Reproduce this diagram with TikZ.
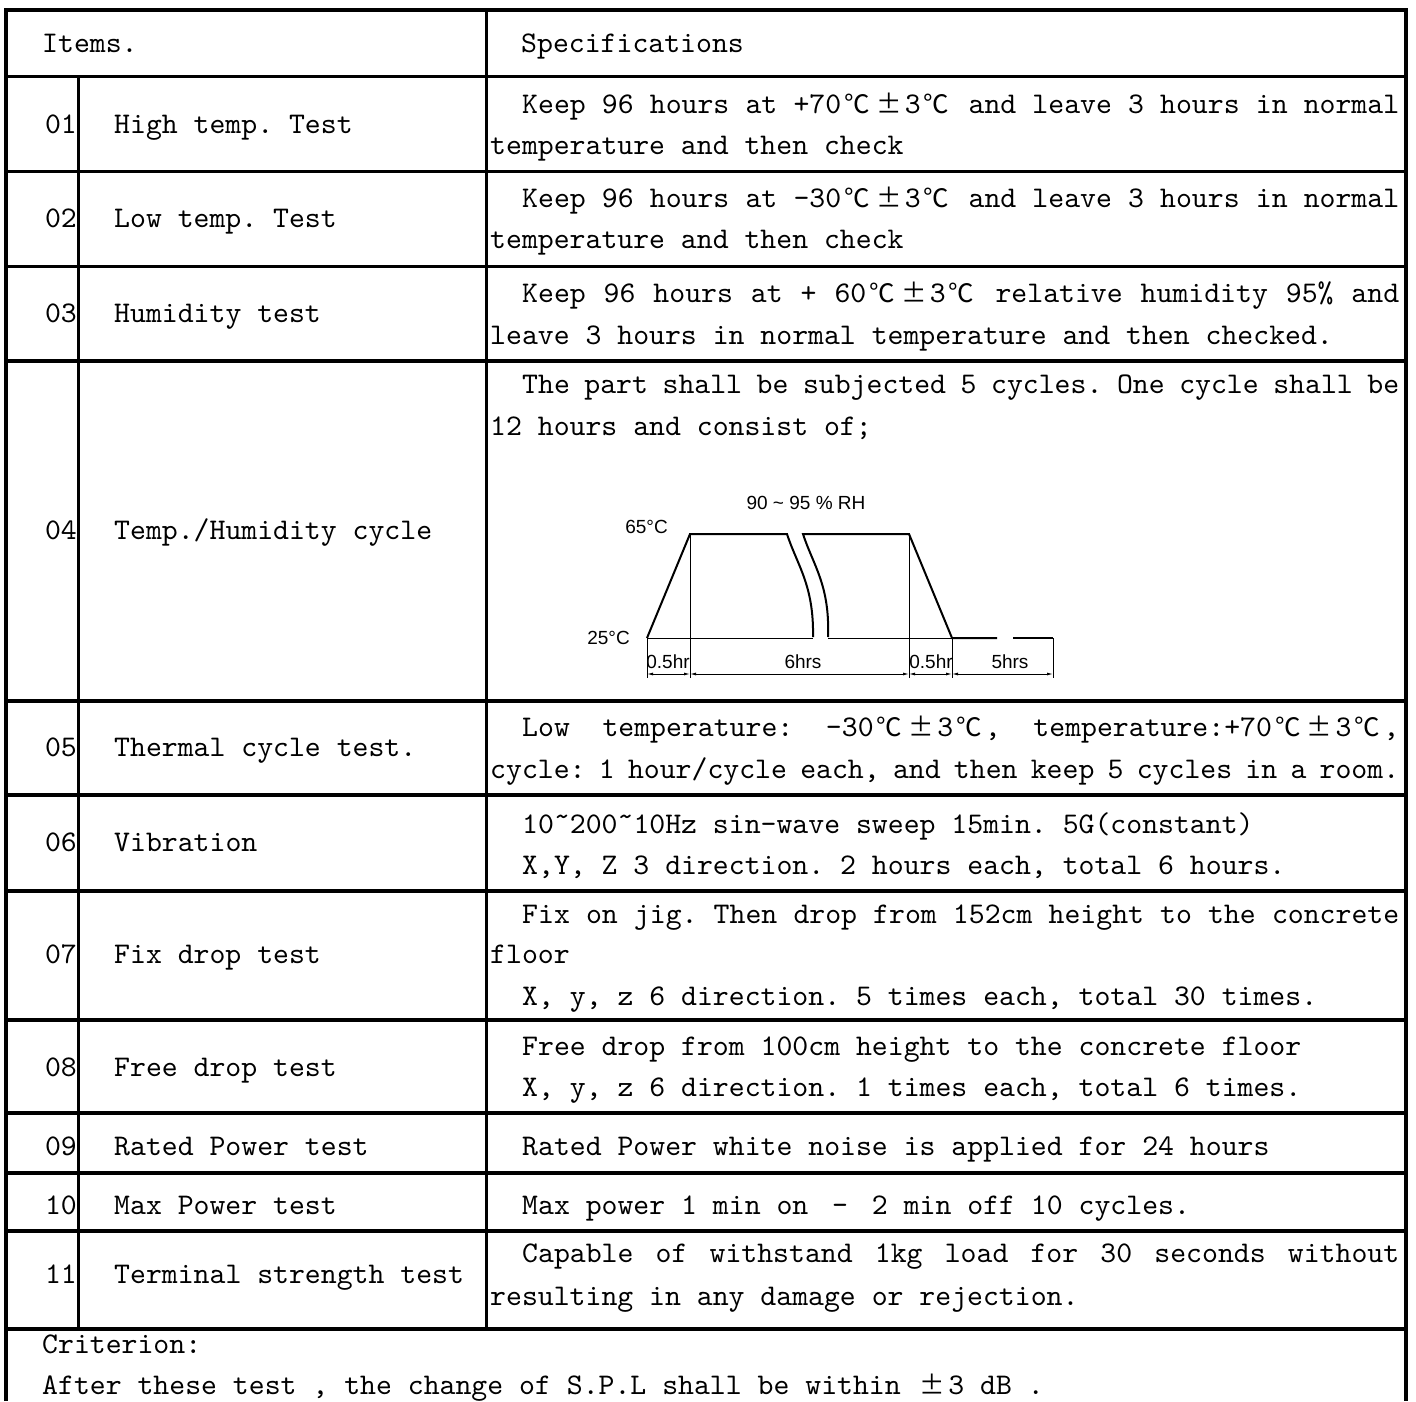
\documentclass[tikz,border=0pt]{standalone}
\usepackage{fontspec}
\usetikzlibrary{arrows.meta}
\newfontfamily\specfont{lmmono10-regular.otf}[FakeStretch=1.0095]
\newfontfamily\cjk{Noto Sans CJK SC}[Scale=0.85]
\newfontfamily\chartfont{Liberation Sans}
\newcommand{\degc}{\makebox[31.8pt]{\cjk ℃}}
\newcommand{\plusmn}{\makebox[31.8pt]{\cjk ±}}
\newcommand{\wt}{\char"02DC\relax}
\newcommand{\jline}[2]{\makebox[#1][s]{\spaceskip=15.9pt plus 1fil minus 1fil\relax #2}}
\tikzset{
  tabline/.style={line width=3.2pt},
  cell/.style={inner sep=0pt, anchor=west, text height=21pt, text depth=5pt,
    font=\fontsize{30pt}{36pt}\specfont\frenchspacing},
  num/.style={cell, anchor=east},
  curve/.style={line width=2pt},
  hair/.style={line width=0.9pt},
  dimline/.style={line width=0.9pt, {Latex[length=6pt,width=3pt]}-{Latex[length=6pt,width=3pt]}},
  chartlabel/.style={inner sep=0pt, font=\fontsize{19pt}{22pt}\chartfont}
}
\begin{document}
\begin{tikzpicture}[x=1pt,y=-1pt]
\useasboundingbox (0,0) rectangle (1416,1401);

%draw outer frame
\draw[tabline, line join=miter] (6,1401) -- (6,10) -- (1406,10) -- (1406,1401);

%draw row lines
\foreach \y in {76.5,171.5,266.5,361,701,795,891,1020,1113,1173,1231,1329}
\draw[tabline] (6,\y) -- (1406,\y);

%draw column lines
\draw[tabline] (78.5,76.5) -- (78.5,1329);
\draw[tabline] (486.5,10) -- (486.5,1329);

%header
\node[cell] (items) at (42,44) {Items.};
\node[cell] (spec) at (521,44) {Specifications};

%items
\foreach \n/\y/\t in {01/125/High temp. Test, 02/219/Low temp. Test, 03/314/Humidity test,
  04/531/{Temp./Humidity cycle}, 05/748/Thermal cycle test., 06/843/Vibration,
  07/955/Fix drop test, 08/1068/Free drop test, 09/1147/Rated Power test,
  10/1206/Max Power test, 11/1275/Terminal strength test}
{
\node[num] (num\n) at (77,\y) {\n};
\node[cell] (name\n) at (114,\y) {\t};
}

%specifications
\node[cell] (s01a) at (522,105) {\jline{877pt}{Keep 96 hours at +70\degc\plusmn3\degc{} and leave 3 hours in normal}};
\node[cell] (s01b) at (490,146) {temperature and then check};
\node[cell] (s02a) at (522,199) {\jline{877pt}{Keep 96 hours at -30\degc\plusmn3\degc{} and leave 3 hours in normal}};
\node[cell] (s02b) at (490,240) {temperature and then check};
\node[cell] (s03a) at (522,294) {\jline{877pt}{Keep 96 hours at + 60\degc\plusmn3\degc{} relative humidity 95\% and}};
\node[cell] (s03b) at (490,336) {leave 3 hours in normal temperature and then checked.};
\node[cell] (s04a) at (522,385) {\jline{877pt}{The part shall be subjected 5 cycles. One cycle shall be}};
\node[cell] (s04b) at (490,427) {12 hours and consist of;};
\node[cell] (s05a) at (522,728) {\jline{877pt}{Low temperature: -30\degc\plusmn3\degc, temperature:+70\degc\plusmn3\degc,}};
\node[cell] (s05b) at (490,770) {\jline{909pt}{cycle: 1 hour/cycle each, and then keep 5 cycles in a room.}};
\node[cell] (s06a) at (522,825) {10\wt200\wt10Hz sin-wave sweep 15min. 5G(constant)};
\node[cell] (s06b) at (522,866) {X,Y, Z 3 direction. 2 hours each, total 6 hours.};
\node[cell] (s07a) at (522,915) {\jline{877pt}{Fix on jig. Then drop from 152cm height to the concrete}};
\node[cell] (s07b) at (490,955) {floor};
\node[cell] (s07c) at (522,997) {X, y, z 6 direction. 5 times each, total 30 times.};
\node[cell] (s08a) at (522,1047) {Free drop from 100cm height to the concrete floor};
\node[cell] (s08b) at (522,1088) {X, y, z 6 direction. 1 times each, total 6 times.};
\node[cell] (s09a) at (522,1147) {Rated Power white noise is applied for 24 hours};
\node[cell] (s10a) at (522,1206) {Max power 1 min on \makebox[31.8pt]{-} 2 min off 10 cycles.};
\node[cell] (s11a) at (522,1254) {\jline{877pt}{Capable of withstand 1kg load for 30 seconds without}};
\node[cell] (s11b) at (490,1297) {resulting in any damage or rejection.};

%criterion
\node[cell] (crit) at (42,1345) {Criterion:};
\node[cell] (critb) at (42,1386) {After these test , the change of S.P.L shall be within \plusmn3 dB .};

%chart of row 04
\coordinate (c0) at (647,638);
\coordinate (c1) at (690,534);
\coordinate (c2) at (909,534);
\coordinate (c3) at (952,638);
\coordinate (c4) at (1053,638);
\draw[curve] (c0) -- (c1) -- (787,534) .. controls (797,565) and (814,585) .. (813,637);
\draw[curve] (828,637) .. controls (830,585) and (813,565) .. (803,534) -- (c2) -- (c3) -- (997,638);
\draw[curve] (1013,638) -- (c4);
\draw[hair] (c0) -- (813,638) (828,638) -- (c3);

%extension lines
\foreach \x/\t in {647/638,690/534,909/534,952/638,1053/638}
\draw[hair] (\x,\t) -- (\x,678);

%dimension lines
\coordinate (d0) at (647,674);
\coordinate (d1) at (690,674);
\coordinate (d2) at (909,674);
\coordinate (d3) at (952,674);
\coordinate (d4) at (1053,674);
\foreach \a/\b in {d0/d1,d1/d2,d2/d3,d3/d4}
\draw[dimline] (\a) -- (\b);

\node[chartlabel] (rh) at (806,503) {90 \textasciitilde{} 95 \% RH};
\node[chartlabel, anchor=east] (hot) at (668,527) {65°C};
\node[chartlabel, anchor=east] (cold) at (630,638) {25°C};
\node[chartlabel] (h1) at (668,662) {0.5hr};
\node[chartlabel] (h2) at (803,662) {6hrs};
\node[chartlabel] (h3) at (931,662) {0.5hr};
\node[chartlabel] (h4) at (1010,662) {5hrs};
\end{tikzpicture}
\end{document}
